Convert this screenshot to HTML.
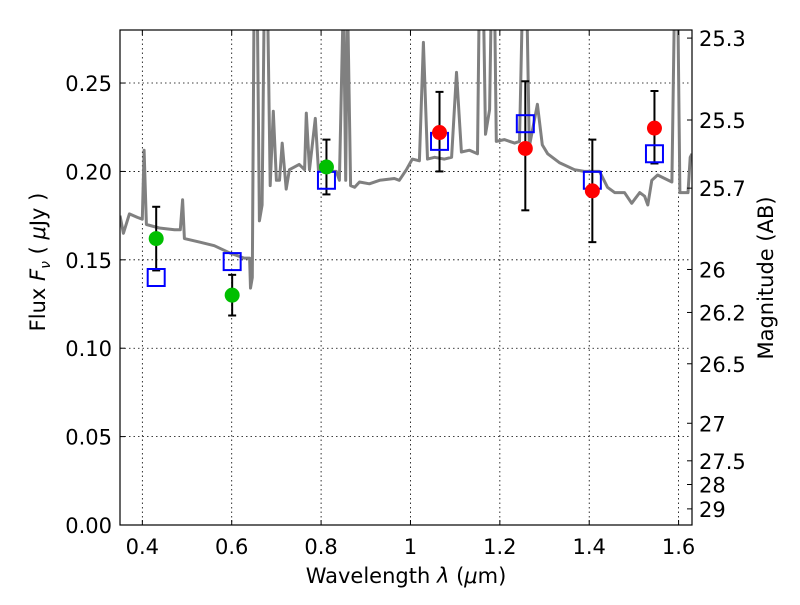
<!DOCTYPE html>
<html><head><meta charset="utf-8"><style>
body{margin:0;background:#fff;}
svg text{font-family:"DejaVu Sans","Liberation Sans",sans-serif;}
</style></head><body>
<svg id="chart" width="800" height="600" xmlns="http://www.w3.org/2000/svg">
<defs><clipPath id="clip"><rect x="120" y="30" width="572" height="495"/></clipPath></defs>
<rect x="0" y="0" width="800" height="600" fill="#fff"/>
<g id="grid"></g>
<g id="spec" clip-path="url(#clip)"></g>
<g id="marks"></g>
<rect x="120" y="30" width="572" height="495" fill="none" stroke="#000" stroke-width="1.2"/>
<g id="axes"></g>
<text x="406" y="583" font-size="21" text-anchor="middle">Wavelength  <tspan font-style="italic">λ</tspan> (<tspan font-style="italic">μ</tspan>m)</text>
<text transform="translate(45,262) rotate(-90)" font-size="21" text-anchor="middle">Flux  <tspan font-style="italic">F</tspan><tspan font-style="italic" font-size="14" dy="5">ν</tspan><tspan dy="-5">  (  </tspan><tspan font-style="italic">μ</tspan>Jy )</text>
<text transform="translate(773,278) rotate(-90)" font-size="21" text-anchor="middle">Magnitude (AB)</text>
</svg>
<script>
const specWave=[0.35,0.3575,0.371,0.389,0.400,0.404,0.409,0.438,0.472,0.485,0.490,0.494,0.528,0.561,0.595,0.628,0.640,0.642,0.646,0.650,0.657,0.662,0.668,0.673,0.680,0.686,0.693,0.700,0.707,0.713,0.722,0.729,0.751,0.763,0.767,0.774,0.787,0.794,0.819,0.834,0.841,0.850,0.855,0.859,0.866,0.875,0.886,0.908,0.931,0.964,0.975,0.991,1.004,1.020,1.029,1.038,1.054,1.076,1.092,1.103,1.114,1.132,1.150,1.154,1.163,1.168,1.177,1.181,1.188,1.192,1.210,1.233,1.244,1.251,1.260,1.266,1.284,1.295,1.307,1.333,1.367,1.389,1.423,1.441,1.457,1.479,1.495,1.513,1.524,1.531,1.540,1.553,1.569,1.585,1.591,1.598,1.603,1.621,1.626,1.630];
const specFlux=[0.175,0.165,0.176,0.174,0.173,0.212,0.170,0.168,0.167,0.167,0.184,0.162,0.160,0.158,0.154,0.151,0.151,0.134,0.140,0.30,0.30,0.172,0.181,0.30,0.30,0.192,0.234,0.195,0.195,0.216,0.190,0.201,0.204,0.201,0.233,0.201,0.230,0.201,0.200,0.200,0.195,0.30,0.195,0.30,0.192,0.191,0.194,0.193,0.195,0.196,0.195,0.201,0.207,0.206,0.273,0.207,0.208,0.207,0.208,0.256,0.211,0.212,0.210,0.30,0.30,0.221,0.235,0.30,0.30,0.217,0.218,0.216,0.217,0.30,0.30,0.214,0.238,0.215,0.210,0.205,0.201,0.200,0.200,0.191,0.188,0.188,0.182,0.188,0.186,0.181,0.195,0.198,0.196,0.194,0.30,0.30,0.188,0.188,0.208,0.210];
const greenWave=[0.431,0.601,0.812];
const greenFlux=[0.162,0.130,0.2025];
const greenErr=[0.018,0.0115,0.0155];
const redWave=[1.065,1.257,1.407,1.546];
const redFlux=[0.222,0.213,0.189,0.2245];
const redErrHi=[0.023,0.038,0.029,0.021];
const redErrLo=[0.022,0.035,0.029,0.020];
const modelWave=[0.431,0.601,0.812,1.065,1.257,1.407,1.546];
const modelFlux=[0.140,0.149,0.195,0.217,0.227,0.195,0.210];
const xTicks=[0.4,0.6,0.8,1.0,1.2,1.4,1.6];
const xTickLabels=["0.4","0.6","0.8","1","1.2","1.4","1.6"];
const yTicks=[0,0.05,0.10,0.15,0.20,0.25];
const yTickLabels=["0.00","0.05","0.10","0.15","0.20","0.25"];
const magTicks=[25.3,25.5,25.7,26,26.2,26.5,27,27.5,28,29];

const X0=120,X1=692,Y0=525,Y1=30,XMIN=0.35,XMAX=1.63,YMIN=0,YMAX=0.28;
const sx=v=>X0+(v-XMIN)/(XMAX-XMIN)*(X1-X0);
const sy=v=>Y0-(v-YMIN)/(YMAX-YMIN)*(Y0-Y1);
const NS='http://www.w3.org/2000/svg';
function mk(tag,attrs,parent){const e=document.createElementNS(NS,tag);for(const k in attrs)e.setAttribute(k,attrs[k]);parent.appendChild(e);return e;}
const grid=document.getElementById('grid'),axes=document.getElementById('axes'),spec=document.getElementById('spec'),marks=document.getElementById('marks');

xTicks.forEach((t,i)=>{const x=sx(t);
 let g=mk('line',{x1:x,x2:x,y1:Y1,y2:Y0,stroke:'#000','stroke-width':0.8,'stroke-dasharray':'1.5,3'},grid);
 
 mk('line',{x1:x,x2:x,y1:Y0,y2:Y0-5,stroke:'#000'},axes);
 mk('line',{x1:x,x2:x,y1:Y1,y2:Y1+5,stroke:'#000'},axes);
 let tx=mk('text',{x:x,y:554,'font-size':21,'text-anchor':'middle'},axes);tx.textContent=xTickLabels[i];
 
});
yTicks.forEach((t,i)=>{const y=sy(t);
 let g=mk('line',{x1:X0,x2:X1,y1:y,y2:y,stroke:'#000','stroke-width':0.8,'stroke-dasharray':'1.5,3'},grid);
 
 mk('line',{x1:X0,x2:X0+5,y1:y,y2:y,stroke:'#000'},axes);
 let tx=mk('text',{x:112,y:y+8,'font-size':21,'text-anchor':'end'},axes);tx.textContent=yTickLabels[i];
 
});
magTicks.forEach(m=>{const f=Math.pow(10,(23.9-m)/2.5);const y=sy(f);
 mk('line',{x1:X1,x2:X1-5,y1:y,y2:y,stroke:'#000'},axes);
 let tx=mk('text',{x:699,y:y+8,'font-size':21},axes);tx.textContent=String(m);
 
});

let d=specWave.map((w,i)=>(i?'L':'M')+sx(w).toFixed(1)+','+sy(specFlux[i]).toFixed(1)).join(' ');
let p=mk('path',{d:d,fill:'none',stroke:'#808080','stroke-width':3,'stroke-linejoin':'round'},spec);


function errbar(w,lo,hi){const x=sx(w);
 mk('line',{x1:x,x2:x,y1:sy(lo),y2:sy(hi),stroke:'#000','stroke-width':2},marks);
 mk('line',{x1:x-4,x2:x+4,y1:sy(lo),y2:sy(lo),stroke:'#000','stroke-width':2},marks);
 mk('line',{x1:x-4,x2:x+4,y1:sy(hi),y2:sy(hi),stroke:'#000','stroke-width':2},marks);}
greenWave.forEach((w,i)=>errbar(w,greenFlux[i]-greenErr[i],greenFlux[i]+greenErr[i]));
redWave.forEach((w,i)=>errbar(w,redFlux[i]-redErrLo[i],redFlux[i]+redErrHi[i]));
modelWave.forEach((w,i)=>{
 let r=mk('rect',{x:sx(w)-8.5,y:sy(modelFlux[i])-8.5,width:17,height:17,fill:'none',stroke:'#0000ff','stroke-width':2},marks);
 
});
greenWave.forEach((w,i)=>{
 let c=mk('circle',{cx:sx(w),cy:sy(greenFlux[i]),r:7.5,fill:'#00bf00'},marks);
 
});
redWave.forEach((w,i)=>{
 let c=mk('circle',{cx:sx(w),cy:sy(redFlux[i]),r:7.5,fill:'#ff0000'},marks);
 
});
</script>
</body></html>
